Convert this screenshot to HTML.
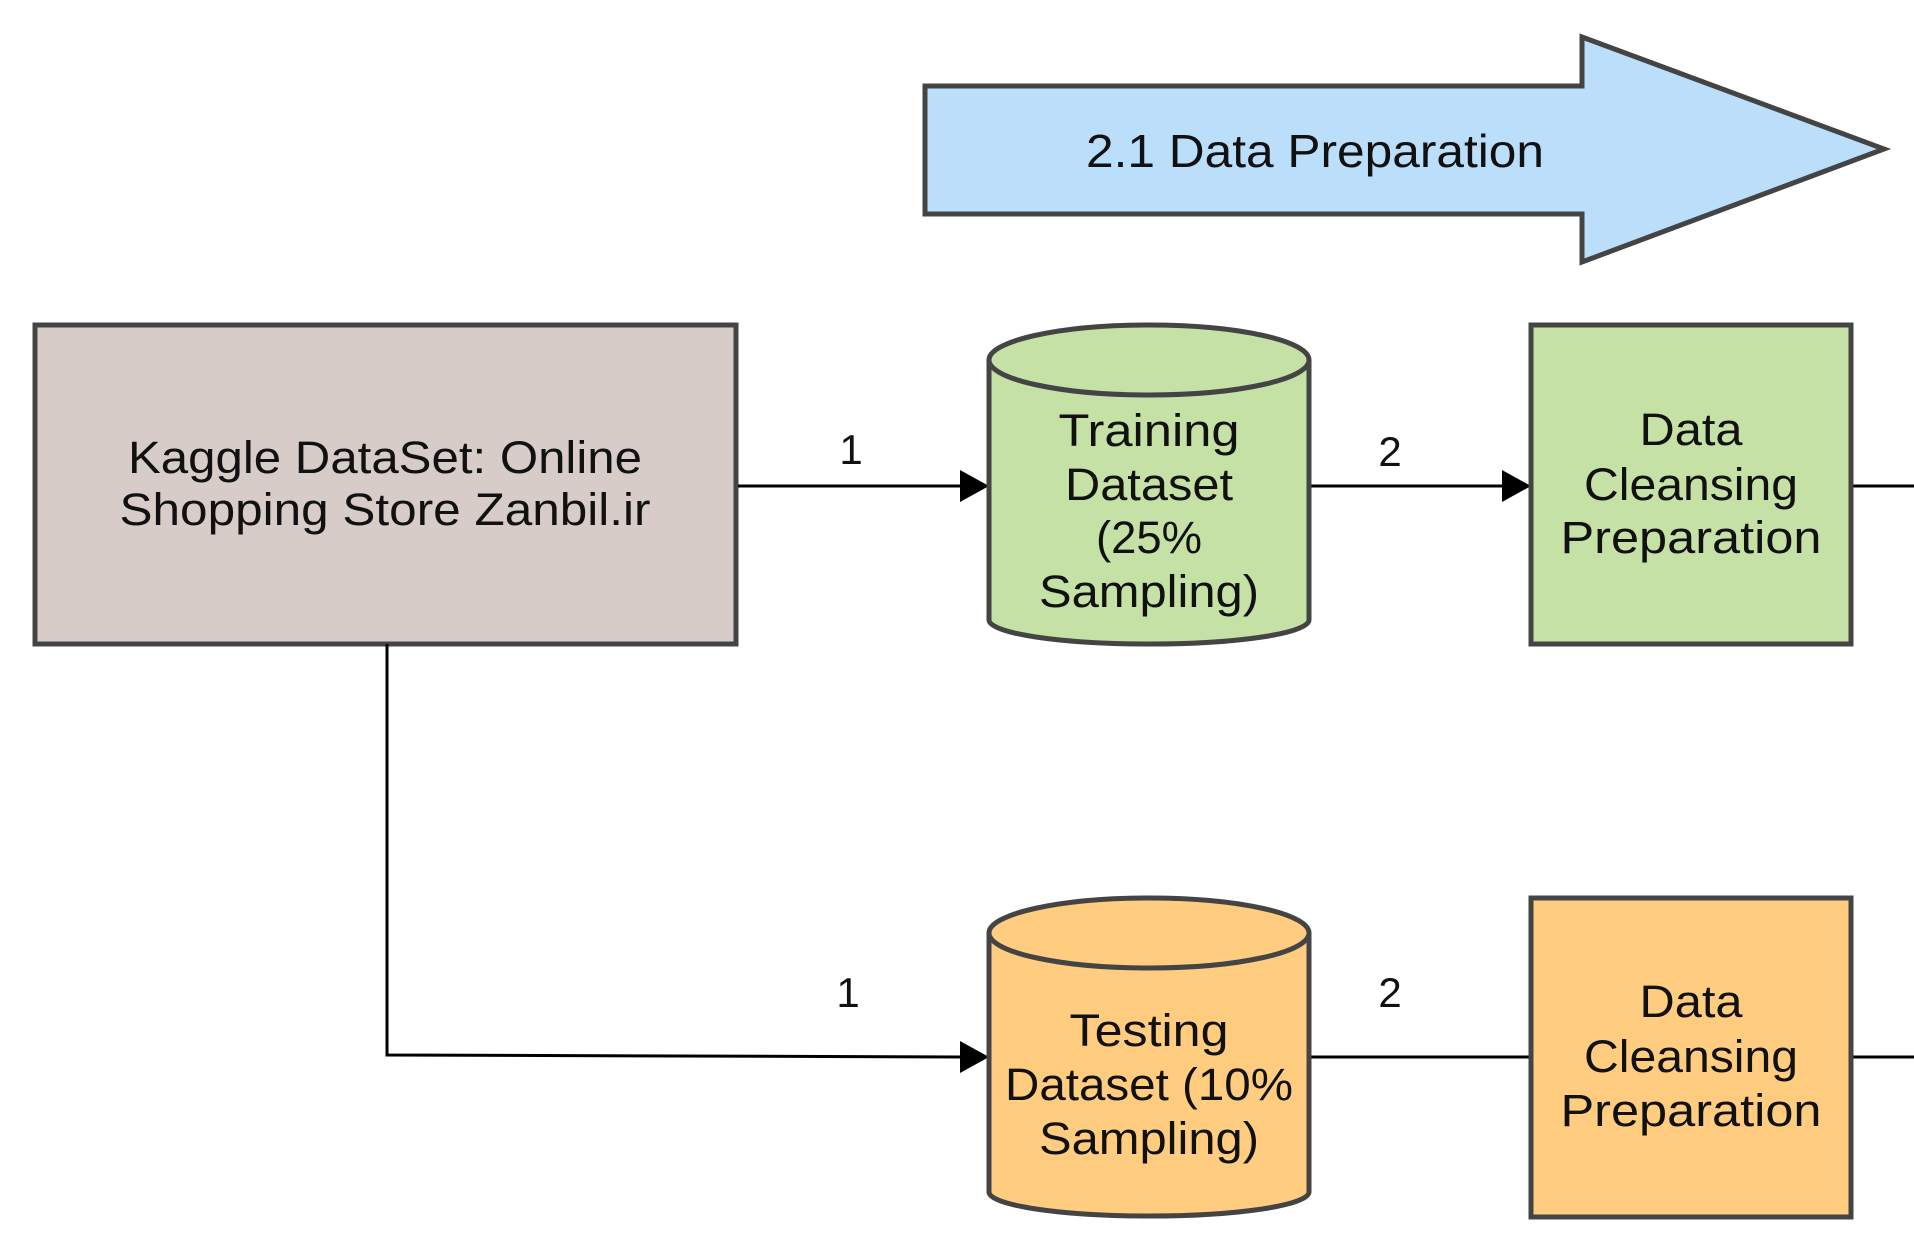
<!DOCTYPE html>
<html><head><meta charset="utf-8"><style>
html,body{margin:0;padding:0;background:#fff;width:1914px;height:1241px;overflow:hidden}
text{font-family:"Liberation Sans","DejaVu Sans",sans-serif;fill:#111}
</style></head><body>
<svg width="1914" height="1241" viewBox="0 0 1914 1241" xmlns="http://www.w3.org/2000/svg">
<!-- big arrow -->
<polygon points="925,86 1582,86 1582,37 1884,149 1582,262 1582,214 925,214" fill="#bbdefb" stroke="#444" stroke-width="5"/>
<text x="1315" y="167" font-size="46" text-anchor="middle" textLength="458" lengthAdjust="spacingAndGlyphs">2.1 Data Preparation</text>
<!-- Kaggle box -->
<rect x="35" y="325" width="701" height="319" fill="#d7ccc8" stroke="#444" stroke-width="5"/>
<text x="385" y="473" font-size="45" text-anchor="middle" textLength="514" lengthAdjust="spacingAndGlyphs">Kaggle DataSet:  Online</text>
<text x="385" y="525" font-size="45" text-anchor="middle" textLength="531" lengthAdjust="spacingAndGlyphs">Shopping Store Zanbil.ir</text>
<!-- connectors -->
<line x1="738" y1="486" x2="960" y2="486" stroke="#000" stroke-width="3"/>
<polygon points="960,470 989,486 960,502" fill="#000"/>
<text x="851" y="464" font-size="42" text-anchor="middle">1</text>
<line x1="1309" y1="486" x2="1502" y2="486" stroke="#000" stroke-width="3"/>
<polygon points="1502,470 1531,486 1502,502" fill="#000"/>
<text x="1390" y="466" font-size="42" text-anchor="middle">2</text>
<line x1="1851" y1="486" x2="1914" y2="486" stroke="#000" stroke-width="3"/>
<polyline points="387,644 387,1055 960,1057" fill="none" stroke="#000" stroke-width="3"/>
<polygon points="960,1041 989,1057 960,1073" fill="#000"/>
<text x="848" y="1007" font-size="42" text-anchor="middle">1</text>
<line x1="1309" y1="1057" x2="1530" y2="1057" stroke="#000" stroke-width="3"/>
<text x="1390" y="1007" font-size="42" text-anchor="middle">2</text>
<line x1="1851" y1="1057" x2="1914" y2="1057" stroke="#000" stroke-width="3"/>
<!-- training cylinder -->
<path d="M989,360 L989,620 A160,24 0 0 0 1309,620 L1309,360" fill="#c5e1a5" stroke="#444" stroke-width="5"/>
<ellipse cx="1149" cy="360" rx="160" ry="35" fill="#c5e1a5" stroke="#444" stroke-width="5"/>
<g font-size="45" text-anchor="middle">
<text x="1149" y="446" textLength="181" lengthAdjust="spacingAndGlyphs">Training</text>
<text x="1149" y="500" textLength="168" lengthAdjust="spacingAndGlyphs">Dataset</text>
<text x="1149" y="553" textLength="106" lengthAdjust="spacingAndGlyphs">(25%</text>
<text x="1149" y="607" textLength="220" lengthAdjust="spacingAndGlyphs">Sampling)</text>
</g>
<!-- green box -->
<rect x="1531" y="325" width="320" height="319" fill="#c5e1a5" stroke="#444" stroke-width="5"/>
<g font-size="45" text-anchor="middle">
<text x="1691" y="445" textLength="103" lengthAdjust="spacingAndGlyphs">Data</text>
<text x="1691" y="500" textLength="214" lengthAdjust="spacingAndGlyphs">Cleansing</text>
<text x="1691" y="553" textLength="261" lengthAdjust="spacingAndGlyphs">Preparation</text>
</g>
<!-- testing cylinder -->
<path d="M989,933 L989,1192 A160,24 0 0 0 1309,1192 L1309,933" fill="#ffcc80" stroke="#444" stroke-width="5"/>
<ellipse cx="1149" cy="933" rx="160" ry="35" fill="#ffcc80" stroke="#444" stroke-width="5"/>
<g font-size="45" text-anchor="middle">
<text x="1149" y="1046" textLength="159" lengthAdjust="spacingAndGlyphs">Testing</text>
<text x="1149" y="1100" textLength="288" lengthAdjust="spacingAndGlyphs">Dataset (10%</text>
<text x="1149" y="1154" textLength="220" lengthAdjust="spacingAndGlyphs">Sampling)</text>
</g>
<!-- orange box -->
<rect x="1531" y="898" width="320" height="319" fill="#ffcc80" stroke="#444" stroke-width="5"/>
<g font-size="45" text-anchor="middle">
<text x="1691" y="1017" textLength="103" lengthAdjust="spacingAndGlyphs">Data</text>
<text x="1691" y="1072" textLength="214" lengthAdjust="spacingAndGlyphs">Cleansing</text>
<text x="1691" y="1126" textLength="261" lengthAdjust="spacingAndGlyphs">Preparation</text>
</g>
</svg>
</body></html>
